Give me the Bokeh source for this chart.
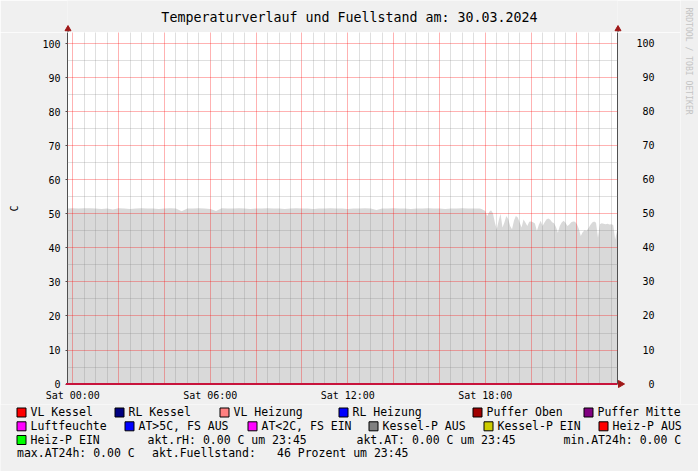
import math
import numpy as np
from bokeh.plotting import figure
from bokeh.layouts import column, row
from bokeh.models import LinearAxis, FixedTicker, Range1d
from bokeh.core.properties import value
from bokeh.embed import file_html
from bokeh.resources import INLINE

# ---------------- data ----------------
title_text = "Temperaturverlauf und Fuellstand am: 30.03.2024"
y_axis_label = "C"
watermark = "RRDTOOL / TOBI OETIKER"

# sampling grid: 15 min steps during the day, 5 min steps in the evening
hours_day = list(np.arange(-0.25, 17.5 + 1e-9, 0.25))
fill_day = [
    51.6, 51.7, 51.6, 51.7, 51.7, 51.6, 51.5, 51.6,
    51.3, 51.7, 51.6, 51.5, 51.6, 51.7, 51.6, 51.6,
    51.5, 51.6, 51.7, 51.6, 50.8, 51.6, 51.6, 51.7,
    51.6, 51.5, 50.9, 51.7, 51.6, 51.6, 51.7, 51.6,
    51.5, 51.6, 51.6, 51.7, 51.6, 51.6, 51.5, 51.6,
    51.7, 51.6, 51.6, 51.5, 51.6, 51.6, 51.7, 51.6,
    51.6, 51.5, 51.6, 51.6, 51.7, 51.6, 51.2, 51.6,
    51.6, 51.7, 51.6, 51.6, 51.5, 51.6, 51.6, 51.7,
    51.6, 51.6, 51.5, 51.6, 51.6, 51.7, 51.6, 51.6,
]
hours_eve = [17.75 + i / 12.0 for i in range(73)]
fill_eve = [
    51.6, 51.5, 51.2, 50.9, 49.4, 50.6, 51.1, 50.2, 47.5, 45.5,
    48.0, 50.1, 46.0, 47.5, 49.4, 48.5, 46.5, 45.5, 48.0, 49.4,
    49.0, 47.5, 46.0, 48.4, 47.5, 46.5, 47.7, 47.8, 47.6, 47.2,
    45.0, 46.8, 48.0, 46.5, 47.5, 48.4, 48.7, 48.3, 47.6, 47.3,
    46.2, 44.5, 46.5, 47.5, 48.0, 47.4, 46.5, 46.9, 47.6, 47.8,
    47.7, 47.0, 45.6, 43.5, 44.6, 45.2, 45.0, 45.8, 46.8, 47.5,
    47.8, 47.4, 43.0, 47.0, 47.3, 47.1, 47.0, 47.1, 46.9, 47.0,
    46.8, 42.5, 45.0,
]
zero_hours = [-0.3, 23.75]
zero_vals = [0.0, 0.0]

x_tick_hours = [0, 6, 12, 18]
x_tick_labels = ["Sat 00:00", "Sat 06:00", "Sat 12:00", "Sat 18:00"]
y_ticks = [0, 10, 20, 30, 40, 50, 60, 70, 80, 90, 100]

legend_row1 = ["VL Kessel", "RL Kessel", "VL Heizung", "RL Heizung", "Puffer Oben", "Puffer Mitte"]
legend_row1_colors = ["#ff0000", "#000080", "#ff8080", "#0000ff", "#a00000", "#800080"]
legend_row2 = ["Luftfeuchte", "AT>5C, FS AUS", "AT<2C, FS EIN", "Kessel-P AUS", "Kessel-P EIN", "Heiz-P AUS"]
legend_row2_colors = ["#ff00ff", "#0000ff", "#ff00ff", "#808080", "#cccc00", "#ff0000"]
legend_row3 = ["Heiz-P EIN"]
legend_row3_colors = ["#00ff00"]
info_row3 = ["akt.rH: 0.00 C um 23:45", "akt.AT: 0.00 C um 23:45", "min.AT24h: 0.00 C"]
info_row4 = ["max.AT24h: 0.00 C", "akt.Fuellstand:", "46 Prozent um 23:45"]

# ---------------- layout (page pixel positions) ----------------
W, H = 698, 471
FL, FR, FT, FB = 67, 617, 32, 384      # plot frame edges in page pixels
MAIN_W = 680                            # main chart width (watermark strip to the right)
LEG_TOP = 404                           # legend strip starts here
X0, X1 = -0.231, 23.769                 # hours shown
Y0, Y1 = -0.147, 103.382
PXH = (FR - FL) / (X1 - X0)
MONO = "DejaVu Sans Mono"
BG = "#f0f0f0"
AR = "#a01818"
row1_box_x = [16, 114, 219, 338, 472, 583]
row2_box_x = [16, 124, 247, 368, 483, 598]
row3_box_x = [16]
row3_info_x = [147, 356, 563]
row4_info_x = [16.5, 151.5, 276.5]
row_y = [411.5, 425.3, 439, 452.7]


def strip(width, height, xr, yr, **kw):
    f = figure(width=width, height=height, x_range=Range1d(*xr), y_range=Range1d(*yr),
               x_axis_type=None, y_axis_type=None, min_border=0,
               output_backend="svg", toolbar_location=None,
               background_fill_color=BG, border_fill_color=BG, outline_line_color=None, **kw)
    f.xgrid.visible = False
    f.ygrid.visible = False
    return f


hours = hours_day + hours_eve
fill = fill_day + fill_eve

# ---------------- main chart ----------------
p = figure(width=MAIN_W, height=LEG_TOP - FT, x_range=(X0, X1), y_range=(Y0, Y1),
           output_backend="svg", toolbar_location=None,
           min_border_left=FL, min_border_right=MAIN_W - FR, min_border_top=0,
           min_border_bottom=LEG_TOP - FB,
           background_fill_color="white", border_fill_color=BG,
           outline_line_color=None)

p.varea(x=hours, y1=[0.0] * len(hours), y2=fill, fill_color="#d9d9d9", fill_alpha=1.0)
p.line(zero_hours, zero_vals, line_color="#c8143c", line_width=2, level="overlay")
p.scatter(x=[X1 + 3.0 / PXH], y=[0.0], marker="triangle", size=7, angle=-math.pi / 2,
          fill_color=AR, line_color=AR, level="overlay")

x_major_grid = [h for h in range(0, 24, 2)]
x_minor_grid = [i * 0.5 for i in range(0, 48) if i % 4 != 0]
p.xgrid.ticker = FixedTicker(ticks=x_major_grid, minor_ticks=x_minor_grid)
p.ygrid.ticker = FixedTicker(ticks=y_ticks, minor_ticks=[v + 5 for v in y_ticks[:-1]])
for g in (p.xgrid[0], p.ygrid[0]):
    g.grid_line_color = "#ff0000"
    g.grid_line_alpha = 0.3
    g.minor_grid_line_color = "#808080"
    g.minor_grid_line_alpha = 0.25
    g.level = "annotation"

ya = p.yaxis[0]
ya.ticker = FixedTicker(ticks=y_ticks)
ya.major_tick_out = 2
ya.major_tick_in = 0
ya.minor_tick_out = 0
ya.minor_tick_in = 0
ya.axis_line_color = "#505050"
ya.major_tick_line_color = "#505050"
ya.major_label_text_font = MONO
ya.major_label_text_font_size = "10px"
ya.major_label_text_color = "black"
ya.major_label_standoff = 5
ya.axis_label = y_axis_label
ya.axis_label_text_font = MONO
ya.axis_label_text_font_size = "10px"
ya.axis_label_text_font_style = "normal"
ya.axis_label_text_color = "black"
ya.axis_label_standoff = 19

ra = LinearAxis(ticker=FixedTicker(ticks=y_ticks),
                major_label_overrides={v: str(v).rjust(3, "\u00a0") for v in y_ticks})
ra.major_tick_out = 0
ra.major_tick_in = 0
ra.minor_tick_out = 0
ra.minor_tick_in = 0
ra.axis_line_color = "#505050"
ra.major_label_text_font = MONO
ra.major_label_text_font_size = "10px"
ra.major_label_text_color = "black"
ra.major_label_standoff = 19
p.add_layout(ra, "right")

xa = p.xaxis[0]
xa.ticker = FixedTicker(ticks=x_tick_hours)
xa.major_label_overrides = dict(zip(x_tick_hours, x_tick_labels))
xa.major_tick_out = 0
xa.major_tick_in = 0
xa.minor_tick_out = 0
xa.minor_tick_in = 0
xa.axis_line_color = None
xa.major_label_text_font = MONO
xa.major_label_text_font_size = "10px"
xa.major_label_text_color = "black"
xa.major_label_standoff = 5

# ---------------- title strip (its frame is aligned with the chart frame) ----------------
t = strip(MAIN_W, FT, (FL, FR), (FT, 0),
          min_border_left=FL, min_border_right=MAIN_W - FR)
t.text(x=[349], y=[16.5], text=[title_text], text_align="center", text_baseline="middle",
       text_font=value(MONO), text_font_size="13.3px", text_color="black", level="overlay")
t.segment(x0=[FL + 0.5, FR + 0.5], y0=[28, 28], x1=[FL + 0.5, FR + 0.5], y1=[FT, FT],
          line_color="#505050", line_width=1, level="overlay")
t.scatter(x=[FL + 0.5, FR + 0.5], y=[28.5, 28.5], marker="triangle", size=6,
          fill_color=AR, line_color=AR, level="overlay")

# ---------------- watermark strip ----------------
wm = strip(W - MAIN_W, LEG_TOP, (MAIN_W, W), (LEG_TOP, 0))
wm.text(x=[688], y=[7], text=[watermark], angle=-math.pi / 2, text_align="left",
        text_baseline="middle", text_font=value(MONO), text_font_size="8.1px",
        text_color="#c4c4c4")

# ---------------- legend strip ----------------
lg = strip(W, H - LEG_TOP, (0, W), (H, LEG_TOP))
bx_all, by_all, bc_all, tx_all, ty_all, tt_all = [], [], [], [], [], []
for names, colors, xs, py in ((legend_row1, legend_row1_colors, row1_box_x, row_y[0]),
                              (legend_row2, legend_row2_colors, row2_box_x, row_y[1]),
                              (legend_row3, legend_row3_colors, row3_box_x, row_y[2])):
    for n, c, bx in zip(names, colors, xs):
        bx_all.append(bx + 5.0)
        by_all.append(py + 0.5)
        bc_all.append(c)
        tx_all.append(bx + 14)
        ty_all.append(py)
        tt_all.append(n)
for txt, px in zip(info_row3, row3_info_x):
    tx_all.append(px)
    ty_all.append(row_y[2])
    tt_all.append(txt)
for txt, px in zip(info_row4, row4_info_x):
    tx_all.append(px)
    ty_all.append(row_y[3])
    tt_all.append(txt)

lg.rect(x=bx_all, y=by_all, width=9, height=9, fill_color=bc_all, line_color="black",
        line_width=1)
lg.text(x=tx_all, y=ty_all, text=tt_all, text_align="left", text_baseline="middle",
        text_font=value(MONO), text_font_size="11.5px", text_color="black")

layout = column(row(column(t, p), wm), lg)
open("out.html", "w").write(file_html(layout, INLINE))
